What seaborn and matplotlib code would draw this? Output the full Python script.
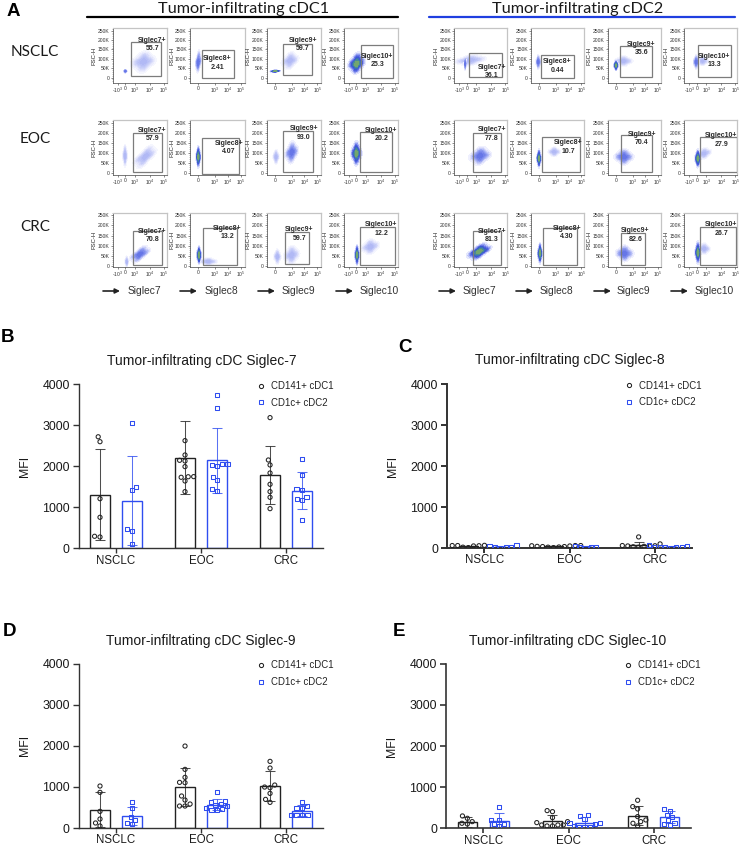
import warnings
import numpy as np
import pandas as pd
import matplotlib
matplotlib.use("Agg")
import matplotlib.pyplot as plt
from matplotlib.colors import LinearSegmentedColormap
from matplotlib.lines import Line2D
from matplotlib.patches import Rectangle, FancyArrowPatch
from matplotlib.ticker import AutoMinorLocator
import seaborn as sns

warnings.filterwarnings("ignore")

# ---------- bar panels: data ----------
GROUPS = ["NSCLC", "EOC", "CRC"]
SERIES = ["CD141+ cDC1", "CD1c+ cDC2"]

S7_CDC1 = [[2720, 2600, 1210, 756, 293, 276],
           [2626, 2276, 2130, 2146, 1992, 1732, 1748, 1745, 1642, 1382],
           [3187, 2154, 2033, 1837, 1561, 1382, 1244, 967]]
S7_CDC2 = [[3065, 1504, 1423, 471, 415, 114],
           [3732, 3415, 2000, 2049, 2033, 2049, 1748, 1660, 1447, 1407],
           [2179, 1789, 1447, 1431, 1244, 1211, 1171, 683]]
S7_MEAN = [[1310, 2210, 1790], [1160, 2150, 1400]]
S7_SD = [[1110, 890, 700], [1090, 790, 450]]

S8_CDC1 = [[50, 65, 60, 55, 60, 20, 10],
           [40, 60, 55, 60, 35, 50, 20, 35, 25, 10],
           [270, 100, 60, 50, 45, 40, 55, 20, 30]]
S8_CDC2 = [[10, 60, 30, 40, 15, 30],
           [5, 50, 20, 25, 15],
           [80, 20, 40, 30, 10, 30, 20, 15]]
S8_MEAN = [[40, 40, 75], [30, 25, 30]]
S8_SD = [[20, 20, 80], [20, 18, 25]]

S9_CDC1 = [[1022, 868, 405, 219, 122, 49],
           [1995, 1427, 1233, 1103, 1111, 779, 681, 584, 535, 535],
           [1622, 1460, 1046, 997, 981, 843, 697, 624]]
S9_CDC2 = [[624, 478, 275, 195, 130, 89],
           [868, 657, 633, 584, 560, 535, 479, 454, 438, 438],
           [624, 535, 479, 479, 316, 316, 316, 316]]
S9_MEAN = [[450, 1000, 1020], [295, 570, 420]]
S9_SD = [[420, 470, 360], [215, 140, 130]]

S10_CDC1 = [[300, 243, 162, 122, 105],
            [430, 405, 260, 162, 138, 81, 81, 81, 57, 57],
            [681, 527, 470, 284, 203, 162, 122, 57]]
S10_CDC2 = [[511, 203, 203, 105, 105, 57],
            [324, 308, 227, 138, 138, 105, 57, 40, 40, 25],
            [462, 430, 324, 284, 203, 138, 105, 81]]
S10_MEAN = [[160, 170, 310], [180, 130, 270]]
S10_SD = [[120, 150, 220], [190, 140, 150]]

PANEL_TITLES = ["Tumor-infiltrating cDC Siglec-7", "Tumor-infiltrating cDC Siglec-8",
                "Tumor-infiltrating cDC Siglec-9", "Tumor-infiltrating cDC Siglec-10"]
Y_TICKS = [0, 1000, 2000, 3000, 4000]

# ---------- flow plots ----------
ROW_NAMES = ["NSCLC", "EOC", "CRC"]
MARKERS = ["Siglec7", "Siglec8", "Siglec9", "Siglec10"]
FLOW_VALUES = [["55.7", "2.41", "59.7", "25.3", "36.1", "0.44", "35.6", "13.3"],
               ["57.9", "4.07", "93.0", "20.2", "77.8", "10.7", "70.4", "27.9"],
               ["70.8", "13.2", "59.7", "12.2", "81.3", "4.30", "82.6", "26.7"]]
# channel position within a plot, FSC-H in thousands: [x0, x1, y0, y1]
GATES = [[[54, 144, 9, 187], [35, 133, 0, 146], [50, 135, 12, 179], [52, 149, 0, 171],
          [45, 143, 5, 130], [30, 131, 0, 121], [36, 135, 5, 169], [42, 141, 4, 172]],
         [[62, 147, 5, 200], [35, 147, -5, 175], [50, 140, 5, 212], [48, 144, 5, 205],
          [56, 141, 5, 200], [33, 147, 5, 180], [41, 134, 5, 192], [47, 159, 5, 180]],
         [[62, 147, 5, 173], [38, 142, 5, 189], [55, 127, 8, 166], [48, 154, 3, 192],
          [57, 141, 3, 173], [36, 139, 3, 189], [41, 112, 3, 163], [47, 156, 3, 191]]]
LABEL_AT = [[[119, 175], [82, 77], [108, 175], [101, 91], [113, 32], [79, 62], [102, 155], [90, 90]],
            [[119, 195], [117, 130], [112, 203], [113, 195], [114, 198], [113, 132], [103, 175], [112, 167]],
            [[119, 151], [112, 164], [98, 158], [113, 182], [114, 151], [108, 164], [84, 153], [112, 182]]]

# each plot: clusters of (x list, y list, density tier)
CLOUDS = [
 [
  [([38, 35, 41, 38, 38], [34, 34, 34, 28, 40], 1), ([92, 72, 112, 90, 95], [84, 80, 88, 52, 115], 0)],
  [([25, 20, 30, 24, 26], [84, 80, 88, 54, 118], 1)],
  [([25, 16, 34, 25, 25], [34, 33, 35, 30, 38], 2), ([70, 56, 84, 68, 72], [90, 85, 95, 65, 115], 0)],
  [([39, 25, 53, 37, 41], [75, 72, 80, 45, 108], 2)],
  [([48, 22, 74, 46, 50], [92, 88, 97, 76, 108], 0), ([33, 31, 35, 33, 33], [74, 74, 74, 54, 94], 1)],
  [([22, 18, 26, 22, 22], [83, 83, 83, 63, 103], 1)],
  [([25, 21, 29, 25, 25], [65, 65, 65, 50, 80], 2), ([48, 33, 63, 48, 48], [88, 88, 88, 73, 103], 0)],
  [([36, 31, 41, 36, 36], [83, 83, 83, 63, 103], 1), ([55, 45, 65, 55, 55], [88, 88, 88, 75, 101], 0)],
 ],
 [
  [([37, 33, 41, 37, 37], [88, 88, 88, 58, 118], 0), ([97, 79, 115, 90, 105], [83, 72, 95, 53, 113], 0)],
  [([25, 21, 29, 25, 25], [83, 83, 83, 53, 113], 2)],
  [([28, 23, 33, 28, 28], [83, 83, 83, 63, 103], 0), ([75, 64, 86, 74, 76], [105, 100, 110, 75, 135], 1)],
  [([38, 29, 47, 38, 38], [100, 100, 100, 67, 133], 2)],
  [([78, 60, 96, 76, 80], [88, 85, 91, 63, 113], 1)],
  [([24, 20, 28, 24, 24], [75, 75, 75, 50, 100], 2), ([70, 60, 80, 70, 70], [108, 108, 108, 95, 121], 0)],
  [([49, 33, 65, 49, 49], [83, 83, 83, 61, 105], 1)],
  [([41, 36, 46, 41, 41], [75, 75, 75, 50, 100], 2), ([60, 48, 72, 60, 60], [100, 95, 105, 85, 115], 0)],
 ],
 [
  [([42, 39, 45, 42, 42], [21, 21, 21, 6, 36], 0), ([82, 66, 98, 76, 88], [58, 50, 66, 36, 80], 1)],
  [([27, 23, 31, 27, 27], [54, 54, 54, 29, 79], 2), ([55, 40, 70, 55, 55], [22, 22, 22, 12, 32], 0)],
  [([32, 26, 38, 32, 32], [46, 46, 46, 26, 66], 0), ([75, 62, 88, 75, 75], [54, 50, 58, 29, 79], 0)],
  [([40, 36, 44, 40, 40], [54, 54, 54, 27, 81], 2), ([80, 65, 95, 80, 80], [95, 90, 100, 75, 115], 0)],
  [([75, 55, 95, 70, 80], [71, 62, 80, 49, 93], 2)],
  [([27, 23, 31, 27, 27], [62, 62, 62, 34, 90], 2)],
  [([51, 36, 66, 51, 51], [62, 62, 62, 40, 84], 1)],
  [([41, 36, 46, 41, 41], [66, 66, 66, 36, 96], 2), ([60, 50, 70, 60, 60], [85, 85, 85, 70, 100], 0)],
 ],
]
X_TICKS_WIDE = [15, 38, 67, 112, 154]
X_LABELS_WIDE = ["-10$^3$", "0", "10$^3$", "10$^4$", "10$^5$"]
X_TICKS_NARROW = [25, 75, 113, 152]
X_LABELS_NARROW = ["0", "10$^3$", "10$^4$", "10$^5$"]
FSC_TICKS = [0, 50, 100, 150, 200, 250]
FSC_LABELS = ["0", "50K", "100K", "150K", "200K", "250K"]

# ---------- layout ----------
W, H = 740, 846
BLACK, BLUE = "#222222", "#2f4df0"
sns.set_theme(style="ticks")
plt.rcParams["font.family"] = ["Liberation Sans", "DejaVu Sans"]
plt.rcParams["mathtext.fontset"] = "custom"
plt.rcParams["mathtext.rm"] = "Liberation Sans"
plt.rcParams["mathtext.default"] = "regular"
fig = plt.figure(figsize=(W / 100, H / 100), dpi=100)


def px_axes(l, t, r, b):
    return fig.add_axes([l / W, 1 - b / H, (r - l) / W, (b - t) / H])


def ftext(x, y, s, **kw):
    kw.setdefault("va", "center")
    kw.setdefault("ha", "center")
    kw.setdefault("color", "#1a1a1a")
    fig.text(x / W, 1 - y / H, s, **kw)


def fline(x0, x1, y, **kw):
    fig.add_artist(Line2D([x0 / W, x1 / W], [1 - y / H, 1 - y / H], **kw))


# ---------- panel A ----------
faint = LinearSegmentedColormap.from_list("f", ["#fafaff", "#e6e8fc", "#c9cef8", "#aeb6f4"])
mid = LinearSegmentedColormap.from_list("m", ["#f8f8ff", "#dde0fb", "#b4bcf6", "#8592ee", "#5f70e6"])
dense = LinearSegmentedColormap.from_list(
    "d", ["#f6f7ff", "#d3d8fa", "#a3adf4", "#6877e8", "#3c50da", "#3b7fa8", "#86b35a"])
TIER_MAPS = [faint, mid, dense]

ROW_TOPS = [(28, 83), (120, 175), (213, 267)]
ROW_YLIM = [(-29, 264), (-8, 267), (-5, 261)]
LEFTS = [112.7, 190, 266.7, 343.7, 454.3, 531, 607.7, 684.3]
WIDE = [True, False, False, True, True, False, False, True]

for r, (top, bottom) in enumerate(ROW_TOPS):
    for c, left in enumerate(LEFTS):
        width = 54.6 if c < 4 else 53
        ax = px_axes(left, top, left + width, bottom)
        # faintest clusters first, so that the dense core stays on top
        for xs, ys, tier in sorted(CLOUDS[r][c], key=lambda item: item[2]):
            sns.kdeplot(x=xs, y=ys, fill=True, levels=10, thresh=0.08,
                        cmap=TIER_MAPS[tier], ax=ax, zorder=1)
        x0, x1, y0, y1 = GATES[r][c]
        ax.add_patch(Rectangle((x0, y0), x1 - x0, y1 - y0, fill=False,
                               ec="#7c7c7c", lw=0.9, zorder=3))
        name = MARKERS[c % 4] + "+"
        lx, ly = LABEL_AT[r][c]
        ax.text(lx, ly, name + "\n" + FLOW_VALUES[r][c], ha="center", va="center",
                fontsize=5.0, fontweight="bold", color="#2a2a2a", linespacing=1.3,
                zorder=4, clip_on=False)
        ax.set_xlim(0, 164 if c < 4 else 160)
        ax.set_ylim(*ROW_YLIM[r])
        ax.set_xticks(X_TICKS_WIDE if WIDE[c] else X_TICKS_NARROW,
                      X_LABELS_WIDE if WIDE[c] else X_LABELS_NARROW)
        ax.set_yticks(FSC_TICKS, FSC_LABELS)
        ax.yaxis.set_minor_locator(AutoMinorLocator(5))
        ax.tick_params(axis="both", which="major", labelsize=3.6, length=1.3, width=0.4,
                       pad=1, colors="#333333")
        ax.tick_params(axis="y", which="minor", length=0.7, width=0.3, color="#555555")
        ax.set_xlabel("")
        ax.set_ylabel("FSC-H", fontsize=4.3, labelpad=0.6, color="#222222")
        for s in ("left", "bottom"):
            ax.spines[s].set_color("#444444")
            ax.spines[s].set_linewidth(0.5)
        for s in ("top", "right"):
            ax.spines[s].set_visible(True)
            ax.spines[s].set_color("#c4c4c4")
            ax.spines[s].set_linewidth(0.9)

fline(87, 398, 17, color="black", lw=1.6)
fline(429, 735, 17, color="#1f3fe0", lw=1.6)
ftext(244, 8.5, "Tumor-infiltrating cDC1", family="Lato", fontsize=11.7)
ftext(578, 8.5, "Tumor-infiltrating cDC2", family="Lato", fontsize=11.7)
for y, name in zip([52, 139, 227], ROW_NAMES):
    ftext(35, y, name, family="Lato", fontsize=11)
ARROW_STARTS = [103, 180, 258, 336, 439, 516, 594, 671]
TEXT_STARTS = [128, 205, 282, 360, 463, 540, 617, 695]
for a, t, name in zip(ARROW_STARTS, TEXT_STARTS, MARKERS * 2):
    fig.add_artist(FancyArrowPatch(
        (a / W, 1 - 291 / H), ((a + 17) / W, 1 - 291 / H), transform=fig.transFigure,
        arrowstyle="-|>", mutation_scale=7, lw=1.2, color="#222222",
        shrinkA=0, shrinkB=0))
    ftext(t, 291, name, ha="left", fontsize=7.4, color="#333333")
for (x, y, s) in [(13, 12, "A"), (8, 337, "B"), (405, 347, "C"), (9, 632, "D"), (399, 632, "E")]:
    ftext(x, y, s, fontsize=13.5, fontweight="bold", color="black")

# ---------- panels B-E ----------
PANELS = [
    (S7_CDC1, S7_CDC2, S7_MEAN, S7_SD, (79, 384.3, 323, 548.3), (201.7, 361), 1.0),
    (S8_CDC1, S8_CDC2, S8_MEAN, S8_SD, (447.3, 384, 691.7, 548), (570, 360), 1.4),
    (S9_CDC1, S9_CDC2, S9_MEAN, S9_SD, (79, 663.7, 323, 828), (201, 641), 1.0),
    (S10_CDC1, S10_CDC2, S10_MEAN, S10_SD, (446.3, 663.7, 690.7, 828.3), (568, 641), 1.2),
]
SHIFT = 0.188
for (d1, d2, means, sds, box, title_at, spine_w), title in zip(PANELS, PANEL_TITLES):
    l, t, r, b = box
    ax = px_axes(l, t, r, b)
    bar_rows = []
    for s, name in enumerate(SERIES):
        for g in range(3):
            bar_rows.append({"x": g + (2 * s - 1) * SHIFT, "MFI": means[s][g], "series": name})
    bars = pd.DataFrame(bar_rows)
    sns.barplot(data=bars, x="x", y="MFI", hue="series", hue_order=SERIES,
                palette=[BLACK, BLUE], native_scale=True, dodge=False, width=0.61,
                fill=False, linewidth=1.0, errorbar=None, legend=False, ax=ax)
    for s, (name, col, mk, pts) in enumerate(zip(SERIES, [BLACK, BLUE], ["o", "s"], [d1, d2])):
        xpos = [g + (2 * s - 1) * SHIFT for g in range(3)]
        ax.errorbar(xpos, means[s], yerr=sds[s], fmt="none", ecolor=col, elinewidth=0.75,
                    capsize=3.9, capthick=0.75, alpha=0.8, zorder=2)
        rows = [{"x": xpos[g], "MFI": v} for g in range(3) for v in pts[g]]
        n_before = len(ax.collections)
        sns.swarmplot(data=pd.DataFrame(rows), x="x", y="MFI", native_scale=True, color=col,
                      edgecolor=col, linewidth=0.75, marker=mk, size=3.0, warn_thresh=1,
                      legend=False, ax=ax, zorder=4)
        for coll in ax.collections[n_before:]:
            coll.set_facecolor("none")
    ax.set_xlim(-0.435, 2.435)
    ax.set_ylim(0, 4000)
    ax.set_xticks(range(3), GROUPS)
    ax.set_yticks(Y_TICKS, [str(v) for v in Y_TICKS])
    ax.tick_params(axis="y", labelsize=8.9, length=4.6, width=spine_w, pad=2.0,
                   color="#333333", labelcolor="#1a1a1a")
    ax.tick_params(axis="x", labelsize=8.3, length=3.4, width=spine_w, pad=1.2,
                   color="#333333", labelcolor="#1a1a1a")
    ax.set_xlabel("")
    ax.set_ylabel("MFI", fontsize=8.9, color="#1a1a1a")
    ax.yaxis.set_label_coords(-48 / (r - l), 0.5)
    for s in ("top", "right"):
        ax.spines[s].set_visible(False)
    for s in ("left", "bottom"):
        ax.spines[s].set_linewidth(spine_w)
        ax.spines[s].set_color("#333333")
    ftext(title_at[0], title_at[1], title, fontsize=10.0)
    handles = [Line2D([], [], ls="", marker="o", ms=3.0, mfc="none", mec=BLACK, mew=0.75),
               Line2D([], [], ls="", marker="s", ms=3.0, mfc="none", mec=BLUE, mew=0.75)]
    ax.legend(handles, SERIES, loc="upper left", bbox_to_anchor=(177 / 244, 1.02), frameon=False,
              fontsize=6.9, handlelength=1.0, handletextpad=0.55, labelspacing=0.68,
              borderpad=0, borderaxespad=0, labelcolor="#222222")

fig.savefig("out.png", dpi=100)
